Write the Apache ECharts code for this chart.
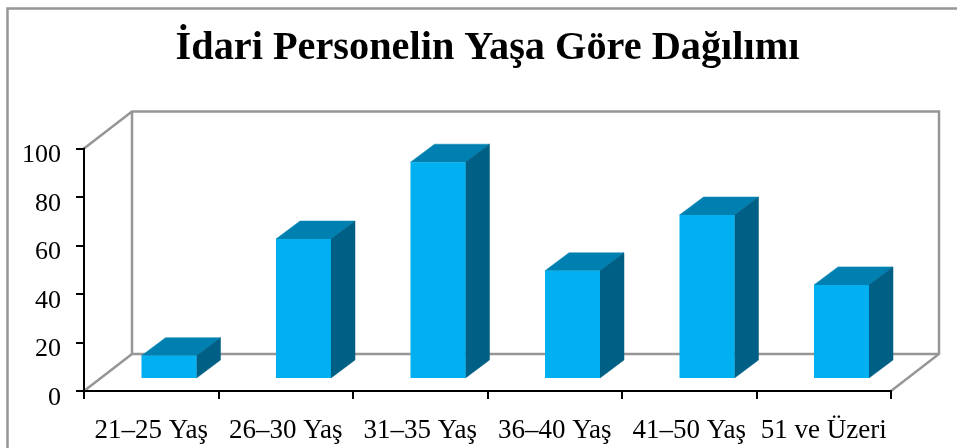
<!DOCTYPE html>
<html><head><meta charset="utf-8">
<style>html,body{margin:0;padding:0;background:#fff}#c{width:957px;height:448px}</style>
<script src="https://cdn.jsdelivr.net/npm/echarts@6/dist/echarts.min.js"></script>
</head><body><div id="c"></div>
<script>
const titleText = 'İdari Personelin Yaşa Göre Dağılımı';
const categories = ['21–25 Yaş','26–30 Yaş','31–35 Yaş','36–40 Yaş','41–50 Yaş','51 ve Üzeri'];
const values = [9.2, 57.3, 89, 44.2, 67.2, 38.4];
const yTicks = {min:0, max:100, interval:20};

const font = '"Liberation Serif","Times New Roman",serif';
const WALL = '#969696', FRONT = '#00B0F0', TOP = '#0080B0', SIDE = '#005F85';
const wallDX = 48, wallDY = -37, barDX = 24, barDY = -18, floorGap = 13, barW = 55, barShift = 17.75;

const chart = echarts.init(document.getElementById('c'), null, {renderer:'canvas'});
chart.setOption({
  animation:false,
  backgroundColor:'#fff',
  title:{text:titleText,left:482.5,top:24,textAlign:'center',
    textStyle:{fontFamily:font,fontWeight:'bold',fontSize:40.3,color:'#000'}},
  grid:{left:84,right:66,top:148.5,bottom:57},
  graphic:[{type:'rect',silent:true,z:-10,shape:{x:7.5,y:8.5,width:980,height:480},
    style:{fill:'none',stroke:WALL,lineWidth:2.5}}],
  xAxis:{type:'category',data:categories,boundaryGap:true,
    axisLine:{lineStyle:{color:'#000',width:2}},
    axisTick:{show:true,alignWithLabel:false,length:8,lineStyle:{color:'#000',width:2}},
    axisLabel:{fontFamily:font,fontSize:27,color:'#000',margin:26,interval:0},
    splitLine:{show:false}, z:5},
  yAxis:{type:'value',min:yTicks.min,max:yTicks.max,interval:yTicks.interval,
    axisLine:{show:true,lineStyle:{color:'#000',width:2}},
    axisTick:{show:true,length:8,lineStyle:{color:'#000',width:2}},
    axisLabel:{color:'#000',margin:23,hideOverlap:false,formatter:'{a|{value}}',
      rich:{a:{fontFamily:font,fontSize:26,color:'#000',padding:[14,0,0,0]}}},
    splitLine:{show:false}, z:5},
  series:[
   {type:'custom',coordinateSystem:'cartesian2d',z:1,silent:true,
    data:[[0,0]],
    renderItem(p,api){
      const c=p.coordSys, l=c.x, r=c.x+c.width, t=c.y, b=c.y+c.height;
      const s={fill:'none',stroke:WALL,lineWidth:2.5};
      return {type:'group',children:[
        {type:'polyline',shape:{points:[[l,t],[l+wallDX,t+wallDY],[r+wallDX,t+wallDY],[r+wallDX,b+wallDY],[r,b]]},style:s},
        {type:'polyline',shape:{points:[[l,b],[l+wallDX,b+wallDY],[r+wallDX,b+wallDY]]},style:s},
        {type:'polyline',shape:{points:[[l+wallDX,t+wallDY],[l+wallDX,b+wallDY]]},style:s}
      ]};
    }},
   {type:'custom',coordinateSystem:'cartesian2d',z:2,silent:true,
    data:values.map((v,i)=>[i,v]),
    encode:{x:0,y:1},
    renderItem(p,api){
      const top=api.coord([api.value(0),api.value(1)]);
      const base=api.coord([api.value(0),0]);
      const x0=top[0]+barShift-barW/2, x1=x0+barW;
      const yT=top[1]-floorGap, yB=base[1]-floorGap;
      const poly=(pts,f)=>({type:'polygon',shape:{points:pts},style:{fill:f,stroke:f,lineWidth:0.5}});
      return {type:'group',children:[
        poly([[x0,yT],[x1,yT],[x1+barDX,yT+barDY],[x0+barDX,yT+barDY]],TOP),
        poly([[x1,yT],[x1+barDX,yT+barDY],[x1+barDX,yB+barDY],[x1,yB]],SIDE),
        {type:'rect',shape:{x:x0,y:yT,width:barW,height:yB-yT},style:{fill:FRONT}}
      ]};
    }}
  ]
});
</script></body></html>
